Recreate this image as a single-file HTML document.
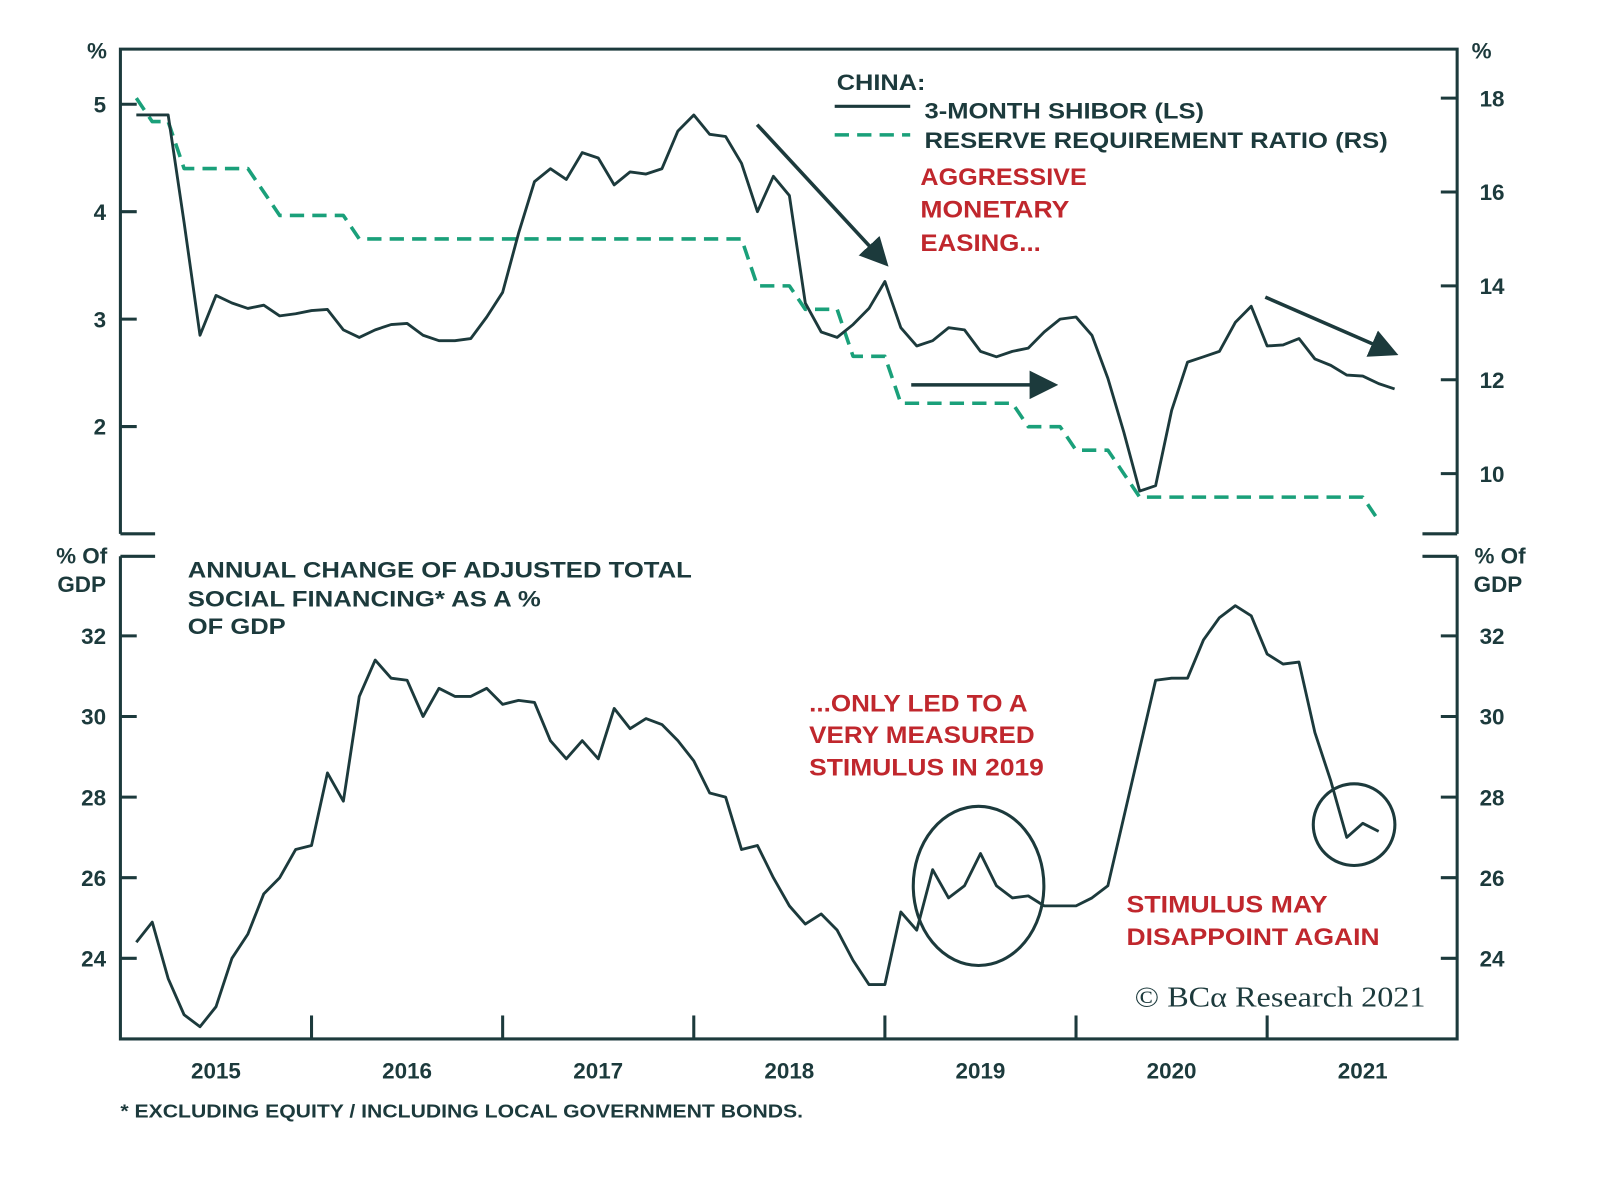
<!DOCTYPE html>
<html><head><meta charset="utf-8"><style>
html,body{margin:0;padding:0;background:#fff;}
svg{display:block;}
text{font-family:"Liberation Sans",Arial,sans-serif;font-weight:bold;}
</style></head><body>
<svg id="chart" width="1600" height="1184" viewBox="0 0 1568 1160" xmlns="http://www.w3.org/2000/svg">
<defs><marker id="ah" markerWidth="8" markerHeight="8" refX="6" refY="4" orient="auto" markerUnits="strokeWidth"><path d="M0,0 L8,4 L0,8 z" fill="#1c3a3c"/></marker></defs>
<g id="frame" stroke="#1c3a3c" stroke-width="3" fill="none"></g>
<g id="marks"></g>
<g id="labels" fill="#1c3a3c"></g>
<g lengthAdjust="spacingAndGlyphs">
<text x="820" y="88" font-size="22" fill="#1c3a3c" textLength="87" lengthAdjust="spacingAndGlyphs">CHINA:</text>
<line x1="818" y1="104" x2="892" y2="104" stroke="#1c3a3c" stroke-width="3"/>
<text x="906" y="116" font-size="22" fill="#1c3a3c" textLength="274" lengthAdjust="spacingAndGlyphs">3-MONTH SHIBOR (LS)</text>
<line x1="818" y1="132" x2="892" y2="132" stroke="#1aa07a" stroke-width="3.5" stroke-dasharray="14,8"/>
<text x="906" y="145" font-size="22" fill="#1c3a3c" textLength="454" lengthAdjust="spacingAndGlyphs">RESERVE REQUIREMENT RATIO (RS)</text>
<g fill="#c0272d" font-size="24">
<text x="902" y="181" textLength="163" lengthAdjust="spacingAndGlyphs">AGGRESSIVE</text><text x="902" y="213" textLength="146" lengthAdjust="spacingAndGlyphs">MONETARY</text><text x="902" y="246" textLength="118" lengthAdjust="spacingAndGlyphs">EASING...</text></g>
<g fill="#1c3a3c" font-size="22">
<text x="184" y="566" textLength="494" lengthAdjust="spacingAndGlyphs">ANNUAL CHANGE OF ADJUSTED TOTAL</text><text x="184" y="594" textLength="346" lengthAdjust="spacingAndGlyphs">SOCIAL FINANCING* AS A %</text><text x="184" y="621" textLength="96" lengthAdjust="spacingAndGlyphs">OF GDP</text></g>
<g fill="#c0272d" font-size="24">
<text x="793" y="697" textLength="214" lengthAdjust="spacingAndGlyphs">...ONLY LED TO A</text><text x="793" y="728" textLength="221" lengthAdjust="spacingAndGlyphs">VERY MEASURED</text><text x="793" y="760" textLength="230" lengthAdjust="spacingAndGlyphs">STIMULUS IN 2019</text></g>
<g fill="#c0272d" font-size="24">
<text x="1104" y="894" textLength="197" lengthAdjust="spacingAndGlyphs">STIMULUS MAY</text><text x="1104" y="926" textLength="248" lengthAdjust="spacingAndGlyphs">DISAPPOINT AGAIN</text></g>
<text x="1112" y="986" font-size="28" fill="#1c3a3c" textLength="285" lengthAdjust="spacingAndGlyphs" style="font-family:'Liberation Serif',serif;font-weight:normal">© BCα Research 2021</text>
<text x="118" y="1095" font-size="18.5" fill="#1c3a3c" textLength="669" lengthAdjust="spacingAndGlyphs">* EXCLUDING EQUITY / INCLUDING LOCAL GOVERNMENT BONDS.</text>
<line x1="742" y1="122" x2="866" y2="256" stroke="#1c3a3c" stroke-width="3.5" marker-end="url(#ah)"/>
<line x1="893" y1="377" x2="1030" y2="377" stroke="#1c3a3c" stroke-width="3.5" marker-end="url(#ah)"/>
<line x1="1240" y1="291" x2="1364" y2="345" stroke="#1c3a3c" stroke-width="3.5" marker-end="url(#ah)"/>
<ellipse cx="959" cy="868" rx="64" ry="78" fill="none" stroke="#1c3a3c" stroke-width="3"/>
<circle cx="1327" cy="808" r="40" fill="none" stroke="#1c3a3c" stroke-width="3"/>
</g>
</svg>
<script>
const shibor=[4.9,4.9,4.9,3.9,2.85,3.22,3.15,3.1,3.13,3.03,3.05,3.08,3.09,2.9,2.83,2.9,2.95,2.96,2.85,2.8,2.8,2.82,3.02,3.25,3.8,4.28,4.4,4.3,4.55,4.5,4.25,4.37,4.35,4.4,4.75,4.9,4.72,4.7,4.45,4.0,4.33,4.15,3.15,2.88,2.83,2.95,3.1,3.35,2.92,2.75,2.8,2.92,2.9,2.7,2.65,2.7,2.73,2.88,3.0,3.02,2.85,2.45,1.95,1.4,1.45,2.15,2.6,2.65,2.7,2.97,3.12,2.75,2.76,2.82,2.63,2.57,2.48,2.47,2.4,2.35];
const rrr=[18,17.5,17.5,16.5,16.5,16.5,16.5,16.5,16,15.5,15.5,15.5,15.5,15.5,15,15,15,15,15,15,15,15,15,15,15,15,15,15,15,15,15,15,15,15,15,15,15,15,15,14,14,14,13.5,13.5,13.5,12.5,12.5,12.5,11.5,11.5,11.5,11.5,11.5,11.5,11.5,11.5,11,11,11,10.5,10.5,10.5,10,9.5,9.5,9.5,9.5,9.5,9.5,9.5,9.5,9.5,9.5,9.5,9.5,9.5,9.5,9.5,9];
const tsf=[24.4,24.9,23.5,22.6,22.3,22.8,24.0,24.6,25.6,26.0,26.7,26.8,28.6,27.9,30.5,31.4,30.95,30.9,30.0,30.7,30.5,30.5,30.7,30.3,30.4,30.35,29.4,28.95,29.4,28.95,30.2,29.7,29.95,29.8,29.4,28.9,28.1,28.0,26.7,26.8,26.0,25.3,24.85,25.1,24.7,23.95,23.35,23.35,25.15,24.7,26.2,25.5,25.8,26.6,25.8,25.5,25.55,25.3,25.3,25.3,25.5,25.8,27.5,29.2,30.9,30.95,30.95,31.9,32.45,32.75,32.5,31.55,31.3,31.35,29.6,28.4,27.0,27.35,27.15];
const years=["2015","2016","2017","2018","2019","2020","2021"];
const leftTicks=[5,4,3,2];
const rightTicks=[18,16,14,12,10];
const bottomTicks=[32,30,28,26,24];

const NS="http://www.w3.org/2000/svg";
const X0=118,X1=1428,YW=187.3;
const xm=i=>X0+YW/12*(i+1);
const yL=v=>102+(5-v)*105.3;
const yR=v=>96+(18-v)*46;
const yB=v=>623+(32-v)*39.5;
function mk(tag,attrs,parent){const e=document.createElementNS(NS,tag);for(const k in attrs)e.setAttribute(k,attrs[k]);parent.appendChild(e);return e;}
const frame=document.getElementById('frame'),marks=document.getElementById('marks'),labels=document.getElementById('labels');
mk('path',{d:`M${X0},523 V48 H${X1} V523`},frame);
mk('path',{d:`M${X0},545 V1018 H${X1} V545`},frame);
[[X0,523,X0+34,523],[X0,545,X0+34,545],[X1-34,523,X1,523],[X1-34,545,X1,545]].forEach(a=>mk('line',{x1:a[0],y1:a[1],x2:a[2],y2:a[3]},frame));
leftTicks.forEach(v=>{
  const t=mk('line',{x1:X0,x2:X0+16,y1:yL(v),y2:yL(v)},frame);
  
  
  const l=mk('text',{x:104,y:yL(v)+8,'text-anchor':'end','font-size':22},labels);l.textContent=v;
  
  
});
rightTicks.forEach(v=>{
  mk('line',{x1:X1-16,x2:X1,y1:yR(v),y2:yR(v)},frame);
  const l=mk('text',{x:1450,y:yR(v)+8,'font-size':22},labels);l.textContent=v;
  
  
});
bottomTicks.forEach(v=>{
  mk('line',{x1:X0,x2:X0+16,y1:yB(v),y2:yB(v)},frame);
  mk('line',{x1:X1-16,x2:X1,y1:yB(v),y2:yB(v)},frame);
  const l=mk('text',{x:104,y:yB(v)+8,'text-anchor':'end','font-size':22},labels);l.textContent=v;
  
  
  const r=mk('text',{x:1450,y:yB(v)+8,'font-size':22},labels);r.textContent=v;
  
  
});
years.forEach((y,i)=>{
  if(i>0)mk('line',{x1:X0+YW*i,x2:X0+YW*i,y1:995,y2:1018},frame);
  const l=mk('text',{x:X0+YW*(i+0.5),y:1057,'text-anchor':'middle','font-size':22},labels);l.textContent=y;
  
  
});
[["%",95,57,'middle'],["%",1452,57,'middle'],["% Of",80,552,'middle'],["GDP",80,580,'middle'],["% Of",1470,552,'middle'],["GDP",1468,580,'middle']].forEach(a=>{
  const l=mk('text',{x:a[1],y:a[2],'text-anchor':a[3],'font-size':22},labels);l.textContent=a[0];
  
  
});
function line(arr,yf,attrs,name){
  const p=mk('polyline',Object.assign({points:arr.map((v,i)=>xm(i).toFixed(1)+','+yf(v).toFixed(1)).join(' '),fill:'none','stroke-linejoin':'round'},attrs),marks);
  
  
}
line(rrr,yR,{stroke:'#1aa07a','stroke-width':3.5,'stroke-dasharray':'14,8'},'rrr-line');
line(shibor,yL,{stroke:'#1c3a3c','stroke-width':2.8},'shibor-line');
line(tsf,yB,{stroke:'#1c3a3c','stroke-width':2.8},'tsf-line');
</script>
</body></html>
